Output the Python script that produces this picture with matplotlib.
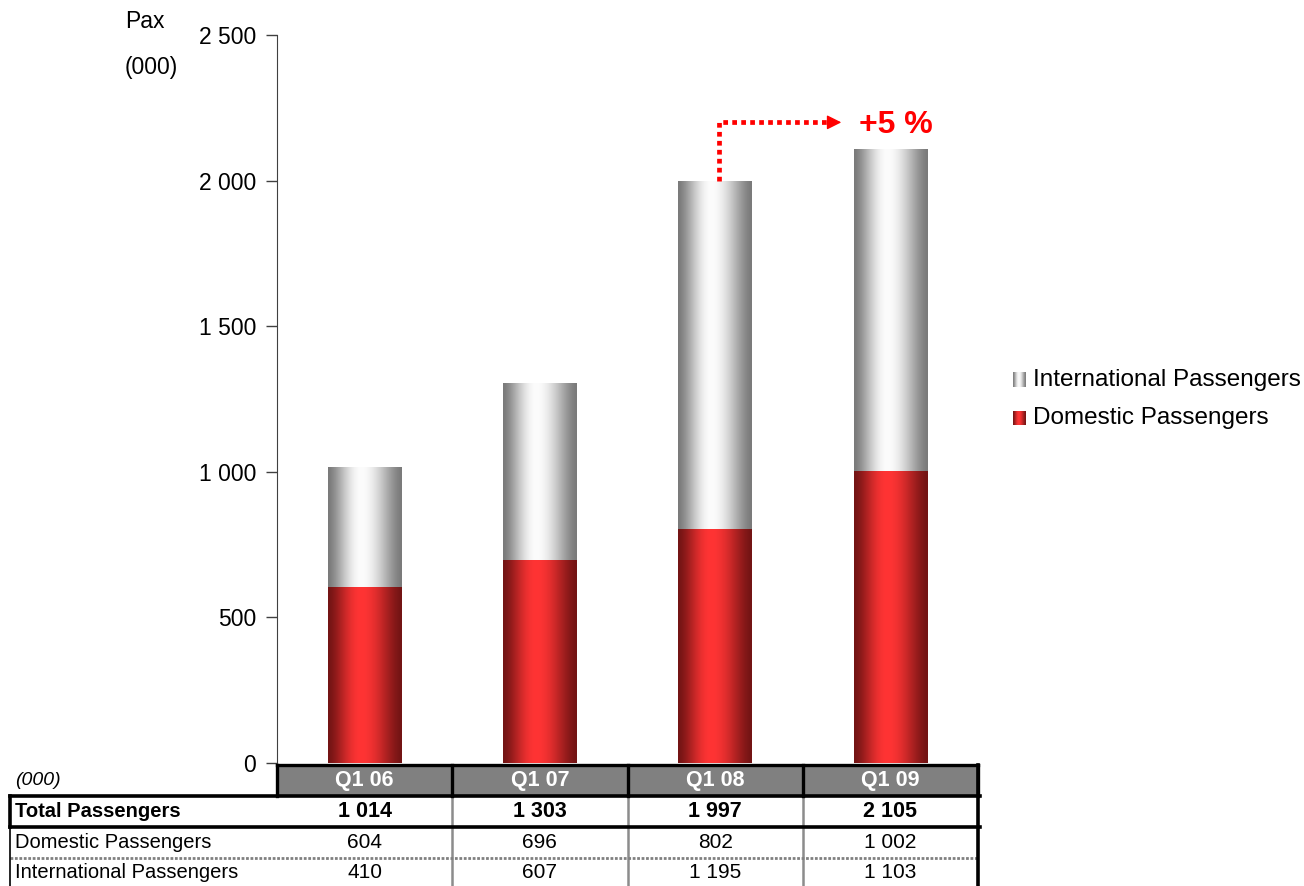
import numpy as np
import matplotlib.pyplot as plt
from matplotlib.transforms import blended_transform_factory
from matplotlib.ticker import FuncFormatter

plt.rcParams['font.family'] = ['Liberation Sans', 'DejaVu Sans']

quarters = ['Q1 06', 'Q1 07', 'Q1 08', 'Q1 09']
domestic = [604, 696, 802, 1002]
international = [410, 607, 1195, 1103]
totals = [1014, 1303, 1997, 2105]
growth_label = '+5 %'


def fmt(v):
    return f'{int(v):,}'.replace(',', ' ')


def gradient(edge, mid, peak=0.45, n=256):
    t = np.linspace(0, 1, n)
    w = np.where(t < peak, t / peak, (1 - t) / (1 - peak))
    w = np.sin(w * np.pi / 2) ** 1.5
    edge = np.array(edge) / 255
    mid = np.array(mid) / 255
    rgb = edge + (mid - edge) * w[:, None]
    return rgb[None, :, :]


red_grad = gradient((115, 20, 20), (255, 52, 52))
grey_grad = gradient((122, 122, 122), (252, 252, 252))

fig = plt.figure(figsize=(13.04, 8.86), dpi=100)
W, H = 1304, 886
ax = fig.add_axes([277 / W, 1 - 763 / H, (978 - 277) / W, (763 - 35) / H])
x = np.arange(len(quarters))

bars_dom = ax.bar(x, domestic, width=0.42, color='none')
bars_int = ax.bar(x, international, bottom=domestic, width=0.42, color='none')
for bars, grad in ((bars_dom, red_grad), (bars_int, grey_grad)):
    for r in bars:
        x0, y0, w, h = r.get_x(), r.get_y(), r.get_width(), r.get_height()
        ax.imshow(grad, extent=(x0, x0 + w, y0, y0 + h), aspect='auto',
                  interpolation='bicubic', zorder=2)

ax.set_xlim(-0.5, 3.5)
ax.set_ylim(0, 2500)
ax.set_yticks([0, 500, 1000, 1500, 2000, 2500])
ax.yaxis.set_major_formatter(FuncFormatter(lambda v, p: fmt(v)))
ax.set_xticks([])
for s in ('top', 'right', 'bottom'):
    ax.spines[s].set_visible(False)
ax.spines['left'].set_color('#404040')
ax.tick_params(axis='y', length=8, width=1, color='#404040', pad=7,
               labelsize=16.5)

# growth arrow from Q1 08 to Q1 09
arrow_y = 2200
ax.plot([2.02, 2.02, 2.66], [totals[2], arrow_y, arrow_y], color='red', lw=3.4,
        linestyle=(0, (1, 0.9)), dash_capstyle='butt', solid_joinstyle='miter')
ax.annotate('', xy=(2.72, arrow_y), xytext=(2.66, arrow_y),
            arrowprops=dict(arrowstyle='-|>', color='red', lw=1,
                            mutation_scale=22, shrinkA=0, shrinkB=0))
ax.text(3.03, arrow_y - 10, growth_label, color='red', fontsize=23,
        fontweight='bold', ha='center', va='center')

# overlay in pixel units for table, legend and unit labels
ov = fig.add_axes([0, 0, 1, 1])
ov.set_xlim(0, W)
ov.set_ylim(H, 0)
ov.axis('off')
tr = blended_transform_factory(ax.transData, ov.transData)

ov.text(125, 21, 'Pax', fontsize=16.5, va='center', ha='left')
ov.text(125, 67, '(000)', fontsize=16.5, va='center', ha='left')

# legend
for yc, grad, name in ((380, grey_grad, 'International Passengers'),
                       (418, red_grad, 'Domestic Passengers')):
    ov.imshow(grad, extent=(1013, 1026, yc + 7, yc - 7), aspect='auto',
              interpolation='bicubic')
    ov.text(1033, yc, name, fontsize=17.5, va='center', ha='left')

# table
edges = np.arange(len(quarters) + 1) - 0.5
hdr_top, hdr_bot = 765, 796
tot_bot, dom_bot, int_bot = 827, 858, 886

ov.fill_between([edges[0], edges[-1]], hdr_top, hdr_bot, color='#808080',
                transform=tr, lw=0)
for i, q in enumerate(quarters):
    ov.text(x[i], (hdr_top + hdr_bot) / 2, q, transform=tr, color='white',
            fontsize=15.5, fontweight='bold', ha='center', va='center')
    ov.text(x[i], (hdr_bot + tot_bot) / 2, fmt(totals[i]), transform=tr,
            fontsize=15.5, fontweight='bold', ha='center', va='center')
    ov.text(x[i], (tot_bot + dom_bot) / 2, fmt(domestic[i]), transform=tr,
            fontsize=15, ha='center', va='center')
    ov.text(x[i], (dom_bot + int_bot) / 2 + 1, fmt(international[i]),
            transform=tr, fontsize=15, ha='center', va='center')

ov.text(15, (hdr_top + hdr_bot) / 2, '(000)', fontsize=14, style='italic',
        va='center', ha='left')
ov.text(15, (hdr_bot + tot_bot) / 2, 'Total Passengers', fontsize=14.5,
        fontweight='bold', va='center', ha='left')
ov.text(15, (tot_bot + dom_bot) / 2, 'Domestic Passengers', fontsize=14.5,
        va='center', ha='left')
ov.text(15, (dom_bot + int_bot) / 2 + 1, 'International Passengers',
        fontsize=14.5, va='center', ha='left')

# inner separators in the data rows
for e in edges[1:-1]:
    ov.plot([e, e], [hdr_bot, int_bot], color='#8c8c8c', lw=1.8, transform=tr)
ov.plot([10, 978], [dom_bot, dom_bot], color='#808080', lw=2,
        linestyle=(0, (1, 0.6)))
ov.plot([10, 10], [tot_bot, int_bot], color='black', lw=1.2)

# header borders
for e in edges:
    ov.plot([e, e], [hdr_top, hdr_bot], color='black', lw=2.4, transform=tr,
            solid_capstyle='projecting')
ov.plot([edges[0], edges[-1]], [hdr_top, hdr_top], color='black', lw=2.4,
        transform=tr, solid_capstyle='projecting')
# thick frame round the total row
ov.plot([10, 980], [hdr_bot, hdr_bot], color='black', lw=2.6,
        solid_capstyle='projecting')
ov.plot([10, 980], [tot_bot, tot_bot], color='black', lw=2.6,
        solid_capstyle='projecting')
ov.plot([10, 10], [hdr_bot, tot_bot], color='black', lw=2.6)
ov.plot([edges[-1], edges[-1]], [hdr_top, int_bot], color='black', lw=2.6,
        transform=tr)

fig.savefig('out.png', dpi=100)
